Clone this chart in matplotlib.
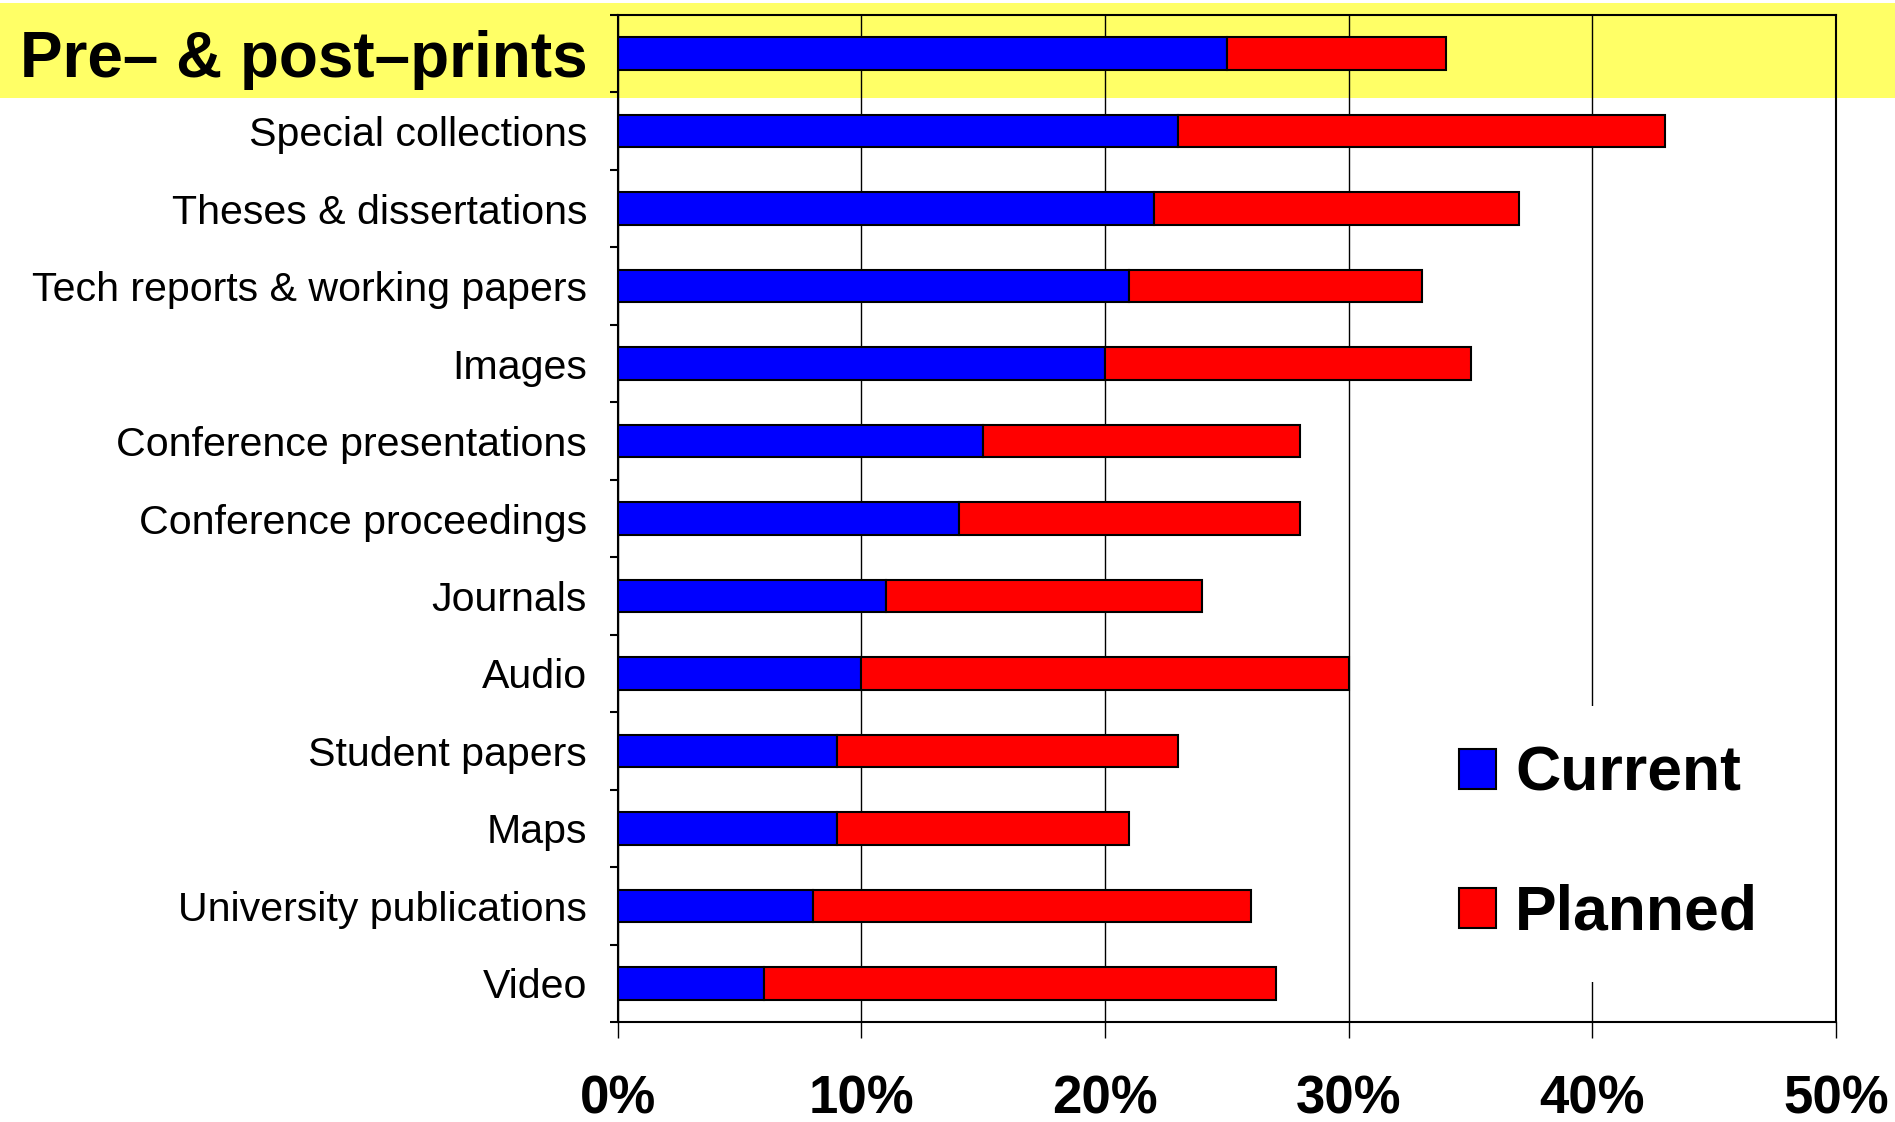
import numpy as np
import matplotlib
matplotlib.use('Agg')
import matplotlib.pyplot as plt
from matplotlib.patches import Rectangle

plt.rcParams['font.family'] = ['Liberation Sans', 'DejaVu Sans']

categories = ['Pre– & post–prints', 'Special collections', 'Theses & dissertations',
              'Tech reports & working papers', 'Images', 'Conference presentations',
              'Conference proceedings', 'Journals', 'Audio', 'Student papers', 'Maps',
              'University publications', 'Video']
current = [25, 23, 22, 21, 20, 15, 14, 11, 10, 9, 9, 8, 6]
planned = [9, 20, 15, 12, 15, 13, 14, 13, 20, 14, 12, 18, 21]
xticks = [0, 10, 20, 30, 40, 50]

W, H = 1895, 1122
fig = plt.figure(figsize=(W / 100, H / 100), dpi=100)

# yellow highlight band behind the first row
band = Rectangle((0, 1 - 98 / H), 1, 95 / H, transform=fig.transFigure,
                 facecolor='#FFFF66', edgecolor='none', zorder=-1)
fig.patches.append(band)

ax = fig.add_axes([617.7 / W, 1 - 1022 / H, (1836 - 617.7) / W, (1022 - 15) / H])
ax.set_facecolor('none')
ax.set_zorder(2)

y = np.arange(len(categories))
ax.barh(y, current, height=0.42, color='#0000FF', edgecolor='black', lw=1.5,
        label='Current', zorder=3)
ax.barh(y, planned, left=current, height=0.42, color='#FF0000', edgecolor='black',
        lw=1.5, label='Planned', zorder=3)

ax.set_xlim(0, 50)
ax.set_ylim(len(categories) - 0.5, -0.5)

ax.set_xticks(xticks)
ax.set_xticklabels([f'{v}%' for v in xticks], fontsize=38, fontweight='bold')
ax.tick_params(axis='x', length=11.5, width=1, pad=26, direction='out')
ax.xaxis.grid(True, color='black', lw=1.0)
ax.set_axisbelow(True)

ax.set_yticks(y)
ax.set_yticklabels(categories, fontsize=29.6)
ax.get_yticklabels()[0].set_fontsize(46)
ax.get_yticklabels()[0].set_fontweight('bold')
ax.tick_params(axis='y', which='major', length=0, pad=22)
ax.set_yticks(np.arange(-0.5, len(categories), 1), minor=True)
ax.tick_params(axis='y', which='minor', length=6, width=1.5, direction='out')

for s in ax.spines.values():
    s.set_linewidth(1.5)

leg = ax.legend(loc='upper left', bbox_to_anchor=(1420 / W, 1 - 706 / H),
                bbox_transform=fig.transFigure, prop={'size': 45, 'weight': 'bold'},
                handlelength=0.6, handleheight=0.6, handletextpad=0.3,
                labelspacing=1.28, borderpad=0.62, borderaxespad=0, fancybox=False,
                facecolor='white', edgecolor='none', framealpha=1)

fig.savefig('out.png', dpi=100)
